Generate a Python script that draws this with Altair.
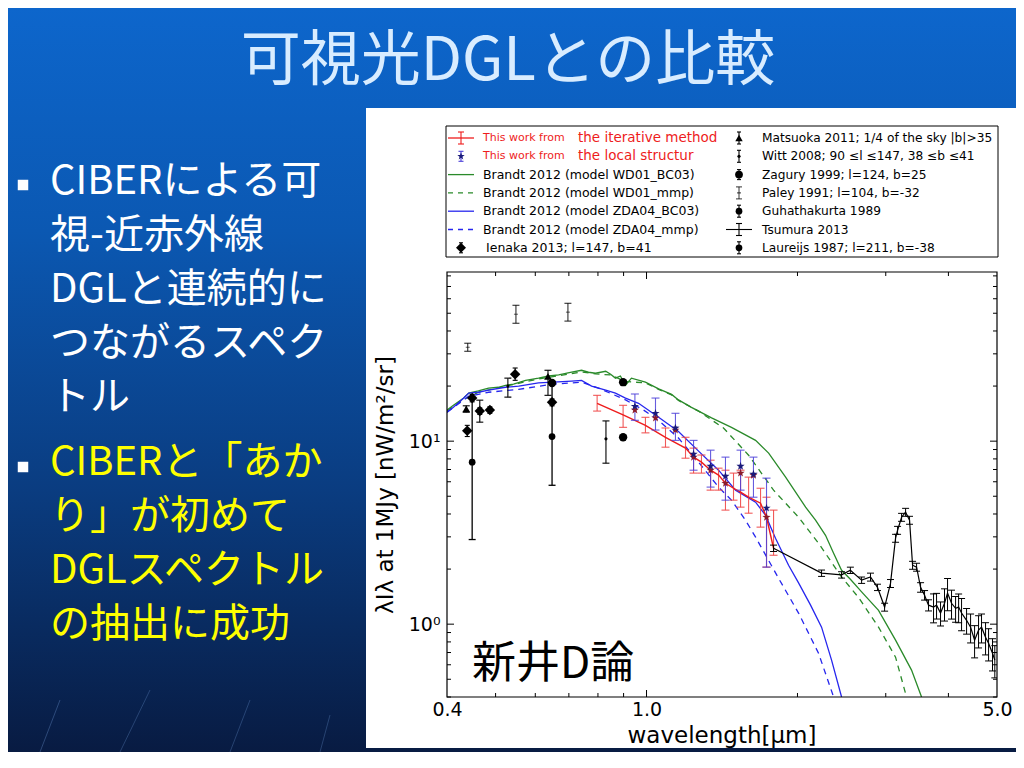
import altair as alt
import pandas as pd

# ---------------- slide text ----------------
TITLE = "可視光DGLとの比較"
BULLET1 = ["CIBERによる可", "視-近赤外線", "DGLと連続的に", "つながるスペク", "トル"]
BULLET2 = ["CIBERと「あか", "り」が初めて", "DGLスペクトル", "の抽出に成功"]
STAMP = "新井D論"
X_TITLE = "wavelength[μm]"
Y_TITLE = "λIλ at 1MJy [nW/m²/sr]"

# ---------------- axis ticks ----------------
X_LABEL_VALUES = [0.4, 1.0, 5.0]
Y_LABEL_VALUES = [1, 10]
X_MINOR = [0.5, 0.6, 0.7, 0.8, 0.9, 2, 3, 4]
X_MAJOR = [1.0]
Y_MINOR = [0.4, 0.5, 0.6, 0.7, 0.8, 0.9, 2, 3, 4, 5, 6, 7, 8, 9, 20, 30, 40, 50, 60, 70, 80]
Y_MAJOR = [1, 10]

# ---------------- legend text ----------------
LEG_RED_PREFIX = "This work from"
LEG_RED = ["the iterative method", "the local structur"]
LEG_LEFT = ["Brandt 2012 (model WD01_BC03)", "Brandt 2012 (model WD01_mmp)",
            "Brandt 2012 (model ZDA04_BC03)", "Brandt 2012 (model ZDA04_mmp)",
            "Ienaka 2013; l=147, b=41"]
LEG_RIGHT = ["Matsuoka 2011; 1/4 of the sky |b|>35", "Witt 2008; 90 ≤l ≤147, 38 ≤b ≤41",
             "Zagury 1999; l=124, b=25", "Paley 1991; l=104, b=-32", "Guhathakurta 1989",
             "Tsumura 2013", "Laureijs 1987; l=211, b=-38"]

# ---------------- model curves (Brandt 2012) ----------------
GREEN_X = [0.400, 0.412, 0.432, 0.442, 0.462, 0.484, 0.507, 0.523, 0.543, 0.574, 0.609, 0.638,
           0.668, 0.709, 0.742, 0.766, 0.791, 0.829, 0.848, 0.867, 0.887, 0.908, 0.933, 0.995,
           1.057, 1.122, 1.158, 1.229, 1.348, 1.477, 1.650, 1.752, 1.894, 2.076, 2.173, 2.275,
           2.361, 2.449, 2.55, 2.685, 2.902, 3.138, 3.377, 3.536]
GREEN_Y = [14.8, 15.7, 17.2, 18.3, 18.8, 19.5, 19.7, 20.2, 20.5, 21.5, 22.1, 22.7,
           23.0, 23.8, 24.4, 23.8, 23.5, 24.1, 23.2, 22.1, 22.7, 20.2, 22.1, 21.0,
           19.3, 18.0, 16.8, 15.3, 13.4, 11.9, 10.1, 8.6, 6.36, 4.36, 3.70, 3.06,
           2.44, 1.97, 1.76, 1.50, 1.19, 0.818, 0.561, 0.40]
GREEN_D_X = [0.400, 0.432, 0.462, 0.507, 0.543, 0.609, 0.668, 0.742, 0.791, 0.848, 0.908, 0.995,
             1.057, 1.122, 1.158, 1.270, 1.424, 1.598, 1.792, 2.010, 2.203, 2.449, 2.647, 2.902,
             3.138, 3.300]
GREEN_D_Y = [14.6, 16.9, 18.5, 19.6, 20.4, 21.9, 22.8, 23.9, 23.3, 23.0, 21.2, 20.8,
             19.2, 17.9, 16.7, 14.6, 11.8, 8.38, 5.40, 3.84, 2.77, 1.81, 1.40, 0.963,
             0.660, 0.40]
BLUE_X = [0.400, 0.412, 0.432, 0.442, 0.462, 0.484, 0.523, 0.556, 0.609, 0.652, 0.709, 0.742,
          0.777, 0.829, 0.867, 0.908, 0.964, 1.057, 1.158, 1.270, 1.392, 1.505, 1.650, 1.727,
          1.808, 1.920, 2.010, 2.124, 2.234, 2.339, 2.449]
BLUE_Y = [14.4, 15.3, 17.2, 18.3, 18.5, 19.0, 19.7, 20.0, 20.8, 21.0, 21.3, 21.5,
          20.0, 19.0, 18.3, 17.2, 16.1, 13.5, 11.3, 8.82, 6.94, 5.40, 4.64, 3.94,
          2.95, 2.10, 1.68, 1.27, 0.963, 0.636, 0.40]
BLUE_D_X = [0.400, 0.442, 0.484, 0.556, 0.652, 0.742, 0.802, 0.908, 0.986, 1.057, 1.158, 1.270,
            1.392, 1.477, 1.575, 1.650, 1.834, 2.010, 2.203, 2.361]
BLUE_D_Y = [14.4, 17.6, 18.5, 19.2, 20.5, 21.0, 19.5, 16.8, 14.8, 13.0, 10.4, 7.68,
            5.61, 4.76, 3.70, 2.99, 1.78, 1.15, 0.694, 0.40]

# ---------------- this work ----------------
RED_X = [0.797, 0.898, 0.995, 1.091, 1.196, 1.241, 1.287, 1.342, 1.392, 1.437, 1.491, 1.540,
         1.598, 1.688, 1.735, 1.792]
RED_Y = [16.1, 13.9, 12.2, 10.5, 9.16, 8.18, 7.68, 6.94, 6.52, 5.89, 5.53, 5.26,
         4.94, 4.58, 3.84, 2.60]
RED_LO = [14.6, 11.9, 11.1, 9.27, 8.07, 6.69, 6.69, 5.40, 5.40, 4.20, 4.76, 4.36,
          4.04, 3.39, 2.05, 2.38]
RED_HI = [17.8, 15.7, 13.5, 11.8, 10.5, 9.16, 8.40, 7.87, 7.12, 6.94, 6.69, 6.94,
          6.36, 5.53, 4.94, 4.20]
STAR_X = [0.948, 1.042, 1.142, 1.241, 1.342, 1.437, 1.540, 1.634, 1.735]
STAR_Y = [15.5, 14.2, 11.8, 8.49, 7.30, 6.44, 7.30, 6.60, 4.31]
STAR_LO = [13.0, 11.5, 10.1, 6.94, 5.61, 4.76, 5.40, 4.94, 2.05]
STAR_HI = [18.1, 17.2, 14.2, 10.1, 8.93, 8.18, 8.93, 8.18, 6.28]
STAR2_Y = [14.8, 13.4, 11.5, 8.18, 6.94, 5.89, 6.69, 6.52, 3.84]

# ---------------- literature ----------------
IENAKA_X = [0.439, 0.449, 0.465, 0.487, 0.547, 0.648]
IENAKA_Y = [11.4, 17.2, 14.6, 14.8, 23.2, 16.3]
IENAKA_LO = [10.6, 16.4, 14.0, 14.2, 21.5, 15.6]
IENAKA_HI = [12.2, 18.0, 15.2, 15.4, 25.1, 17.0]
MATSUOKA_X = [0.437, 0.636]
MATSUOKA_Y = [15.0, 22.6]
MATSUOKA_LO = [14.4, 17.8]
MATSUOKA_HI = [15.6, 24.4]
WITT_X = [0.465, 0.529, 0.830]
WITT_Y = [14.6, 20.0, 10.3]
WITT_LO = [12.7, 17.4, 7.58]
WITT_HI = [16.75, 22.1, 12.9]
ZAGURY_X = [0.898, 0.898, 0.648]
ZAGURY_Y = [21.0, 10.5, 20.8]
PALEY_X = [0.440, 0.549, 0.697]
PALEY_Y = [32.6, 49.4, 50.7]
PALEY_LO = [31.0, 44.1, 45.3]
PALEY_HI = [34.3, 55.3, 56.7]
GUHA_X = [0.449]
GUHA_Y = [7.68]
GUHA_LO = [2.9]
GUHA_HI = [17.2]
LAUREIJS_X = [0.648]
LAUREIJS_Y = [10.6]
LAUREIJS_LO = [5.74]
LAUREIJS_HI = [20.8]

TSUMURA_X = [1.792, 2.234, 2.449, 2.55, 2.685, 2.797, 2.888, 2.984, 3.066, 3.138, 3.167, 3.226,
             3.286, 3.346, 3.393, 3.456, 3.520, 3.585, 3.651, 3.736, 3.788, 3.858, 3.929, 3.984,
             4.058, 4.134, 4.192, 4.249, 4.348, 4.429, 4.511, 4.594, 4.657, 4.744, 4.810, 4.898,
             4.950]
TSUMURA_Y = [2.60, 1.90, 1.86, 1.97, 1.74, 1.81, 1.59, 1.24, 1.67, 2.95, 3.26, 3.84,
             4.09, 3.70, 2.10, 2.05, 1.59, 1.44, 1.27, 1.24, 1.27, 1.15, 1.30, 1.48,
             1.30, 1.22, 1.24, 1.15, 1.05, 0.963, 0.818, 0.927, 0.963, 0.849, 0.787, 0.694,
             0.636]
TSUMURA_ERR = [0.04, 0.04, 0.04, 0.04, 0.04, 0.05, 0.04, 0.05, 0.05, 0.05, 0.05, 0.05,
               0.05, 0.05, 0.05, 0.05, 0.06, 0.06, 0.07, 0.18, 0.16, 0.15, 0.20, 0.20,
               0.18, 0.16, 0.18, 0.20, 0.16, 0.18, 0.20, 0.20, 0.18, 0.20, 0.20, 0.20,
               0.20]

# ---------------- layout ----------------
W, H = 550, 425
OX, OY = 447, 272          # page position of the plot area
TOTAL_W, TOTAL_H = 1008, 744
PAD = {"left": OX - 8, "top": OY - 8, "right": TOTAL_W - (OX - 8) - W,
       "bottom": TOTAL_H - (OY - 8) - H}


def rx(px):
    return px - OX


def ry(py):
    return py - OY


XS = alt.Scale(type="log", domain=[0.4, 5.0])
YS = alt.Scale(type="log", domain=[0.4, 84])
AX_X = alt.Axis(values=X_LABEL_VALUES, labelExpr="format(datum.value, '.1f')", ticks=False,
                domain=False, grid=False, title=None, labelFont="DejaVu Sans", labelFontSize=19,
                labelColor="black", labelPadding=3, labelFlush=False, labelOverlap=False, zindex=2)
AX_Y = alt.Axis(values=Y_LABEL_VALUES, labelExpr="datum.value == 10 ? '10¹' : '10⁰'", ticks=False,
                domain=False, grid=False, title=None, labelFont="DejaVu Sans", labelFontSize=19,
                labelColor="black", labelPadding=7, labelFlush=False, labelOverlap=False, zindex=2)


def X(f="x"):
    return alt.X(f"{f}:Q", scale=XS, axis=AX_X)


def Y(f="y"):
    return alt.Y(f"{f}:Q", scale=YS, axis=AX_Y)


ONE = pd.DataFrame({"k": [0]})
STAR = ("M0,-1L0.235,-0.324L0.951,-0.309L0.38,0.124L0.588,0.809L0,0.4L-0.588,0.809"
        "L-0.38,0.124L-0.951,-0.309L-0.235,-0.324Z")

L = []


def text(px, py, s, size, color="black", font="DejaVu Sans", align="left", baseline="middle",
         angle=None, weight="normal"):
    kw = dict(fontSize=size, color=color, font=font, align=align, baseline=baseline,
              fontWeight=weight)
    if angle is not None:
        kw["angle"] = angle
    L.append(alt.Chart(ONE).mark_text(**kw).encode(
        x=alt.value(rx(px)), y=alt.value(ry(py)), text=alt.value(s)))


def rect(x1, y1, x2, y2, **kw):
    L.append(alt.Chart(ONE).mark_rect(**kw).encode(
        x=alt.value(rx(x1)), x2=alt.value(rx(x2)), y=alt.value(ry(y1)), y2=alt.value(ry(y2))))


def hline(x1, x2, y, color, width=1.3, dash=None, opacity=1.0):
    kw = dict(color=color, strokeWidth=width, opacity=opacity)
    if dash:
        kw["strokeDash"] = dash
    L.append(alt.Chart(ONE).mark_rule(**kw).encode(
        x=alt.value(rx(x1)), x2=alt.value(rx(x2)), y=alt.value(ry(y))))


def seg(x1, y1, x2, y2, color, width=1.0, opacity=1.0):
    L.append(alt.Chart(ONE).mark_rule(color=color, strokeWidth=width, opacity=opacity).encode(
        x=alt.value(rx(x1)), x2=alt.value(rx(x2)), y=alt.value(ry(y1)), y2=alt.value(ry(y2))))


def vbar(x, y1, y2, color, cap=6, width=1.1):
    L.append(alt.Chart(ONE).mark_rule(color=color, strokeWidth=width).encode(
        x=alt.value(rx(x)), y=alt.value(ry(y1)), y2=alt.value(ry(y2))))
    for yy in (y1, y2):
        hline(x - cap / 2, x + cap / 2, yy, color, width)


def sym(x, y, shape, size, color="black"):
    L.append(alt.Chart(ONE).mark_point(shape=shape, size=size, filled=True, color=color,
                                       opacity=1).encode(x=alt.value(rx(x)), y=alt.value(ry(y))))


# ---- data-layer helpers ----
def line(xv, yv, color, dash=None, width=1.3):
    kw = dict(color=color, strokeWidth=width, clip=True)
    if dash:
        kw["strokeDash"] = dash
    L.append(alt.Chart(pd.DataFrame({"x": xv, "y": yv})).mark_line(**kw).encode(x=X(), y=Y()))


def errbars(xv, lo, hi, color, cap=8, width=1.1, opacity=1.0):
    base = alt.Chart(pd.DataFrame({"x": xv, "lo": lo, "hi": hi}))
    L.append(base.mark_rule(color=color, strokeWidth=width, clip=True, opacity=opacity).encode(
        x=X(), y=Y("lo"), y2="hi:Q"))
    for f in ("lo", "hi"):
        L.append(base.mark_tick(orient="horizontal", color=color, size=cap, thickness=width,
                                clip=True, opacity=opacity).encode(x=X(), y=Y(f)))


def points(xv, yv, shape, size, color="black"):
    L.append(alt.Chart(pd.DataFrame({"x": xv, "y": yv})).mark_point(
        shape=shape, size=size, filled=True, color=color, opacity=1, clip=True).encode(x=X(), y=Y()))


# ---------------- slide background ----------------
grad = alt.LinearGradient(gradient="linear", x1=0, x2=0, y1=0, y2=1, stops=[
    alt.GradientStop(color="#0d66cc", offset=0.0),
    alt.GradientStop(color="#0b58b2", offset=0.3),
    alt.GradientStop(color="#0a3c80", offset=0.65),
    alt.GradientStop(color="#081b42", offset=1.0)])
rect(8, 8, 1016, 752, fill=grad)
# faint template strokes near the bottom of the slide
seg(60, 700, 40, 752, "#6f9ad8", 1.0, 0.35)
seg(150, 690, 120, 752, "#6f9ad8", 1.0, 0.3)
seg(250, 700, 230, 752, "#6f9ad8", 1.0, 0.3)
seg(330, 715, 320, 752, "#6f9ad8", 1.0, 0.3)
rect(366, 108, 1016, 748, fill="white")

# title
text(508, 62, TITLE, 60, color="#d8ecff", font="Noto Sans CJK JP", align="center")

# bullets
sym(23, 185, "square", 110, color="white")
for i, s in enumerate(BULLET1):
    text(50, 182 + i * 54, s, 40, color="white", font="Noto Sans CJK JP")
sym(23, 467, "square", 110, color="white")
for i, s in enumerate(BULLET2):
    text(50, 463 + i * 54, s, 40, color="#ffff00", font="Noto Sans CJK JP")

# ---------------- legend ----------------
rect(446, 126, 998, 257, fill="white", stroke="black", strokeWidth=1)
ROW = [138 + i * 18.3 for i in range(7)]
LX, LT, RX_, RT = 461, 483, 739, 762
# left column handles
hline(448, 474, ROW[0], "#ee1c1c")
vbar(LX, ROW[0] - 6, ROW[0] + 6, "#ee1c1c")
vbar(LX, ROW[1] - 5, ROW[1] + 5, "#4b3fd8", cap=5)
sym(LX, ROW[1], STAR, 60, color="#1a1a7a")
hline(448, 474, ROW[2], "#2a8a2a")
hline(448, 474, ROW[3], "#2a8a2a", dash=[5, 5])
hline(448, 474, ROW[4], "#2626ee")
hline(448, 474, ROW[5], "#2626ee", dash=[5, 5])
vbar(LX, ROW[6] - 5, ROW[6] + 5, "black", cap=4)
sym(LX, ROW[6], "diamond", 100)
for i in range(2):
    text(LT, ROW[i], LEG_RED_PREFIX, 11, color="#ee1c1c")
    text(578, ROW[i], LEG_RED[i], 13.5, color="#ee1c1c")
for i, s in enumerate(LEG_LEFT):
    text(LT + (3 if i == 4 else 0), ROW[i + 2], s, 12.5)
# right column handles
vbar(RX_, ROW[0] - 6, ROW[0] + 6, "black", cap=4)
sym(RX_, ROW[0], "triangle-up", 55)
vbar(RX_, ROW[1] - 6, ROW[1] + 6, "black", cap=4)
sym(RX_, ROW[1], "circle", 10)
vbar(RX_, ROW[2] - 5, ROW[2] + 5, "black", cap=4)
sym(RX_, ROW[2], "circle", 60)
vbar(RX_, ROW[3] - 6, ROW[3] + 6, "black", cap=6, width=0.8)
hline(RX_ - 2, RX_ + 2, ROW[3], "black", 0.8)
vbar(RX_, ROW[4] - 6, ROW[4] + 6, "black", cap=4)
sym(RX_, ROW[4], "circle", 45)
hline(726, 752, ROW[5], "black", 1.1)
vbar(RX_, ROW[5] - 6, ROW[5] + 6, "black", cap=6)
vbar(RX_, ROW[6] - 6, ROW[6] + 6, "black", cap=4)
sym(RX_, ROW[6], "circle", 45)
for i, s in enumerate(LEG_RIGHT):
    text(RT, ROW[i], s, 12.2)

# ---------------- data ----------------
line(GREEN_X, GREEN_Y, "#2a8a2a")
line(GREEN_D_X, GREEN_D_Y, "#2a8a2a", dash=[6, 5])
line(BLUE_X, BLUE_Y, "#2626ee")
line(BLUE_D_X, BLUE_D_Y, "#2626ee", dash=[6, 5])

errbars(RED_X, RED_LO, RED_HI, "#f04848", cap=8, opacity=0.9)
line(RED_X, RED_Y, "#ee1c1c", width=1.4)
errbars(STAR_X, STAR_LO, STAR_HI, "#4b3fd8", cap=8, opacity=0.85)
points(STAR_X, STAR2_Y, STAR, 75, color="#8b1a2a")
points(STAR_X, STAR_Y, STAR, 75, color="#1a1a7a")

errbars(IENAKA_X, IENAKA_LO, IENAKA_HI, "black", cap=5)
points(IENAKA_X, IENAKA_Y, "diamond", 110)
errbars(MATSUOKA_X, MATSUOKA_LO, MATSUOKA_HI, "black", cap=7)
points(MATSUOKA_X, MATSUOKA_Y, "triangle-up", 60)
errbars(WITT_X, WITT_LO, WITT_HI, "black", cap=7)
points(WITT_X, WITT_Y, "circle", 10)
points(ZAGURY_X, ZAGURY_Y, "circle", 70)
errbars(PALEY_X, PALEY_LO, PALEY_HI, "black", cap=7, width=0.9)
L.append(alt.Chart(pd.DataFrame({"x": PALEY_X, "y": PALEY_Y})).mark_tick(
    orient="horizontal", color="black", size=4, thickness=0.9, clip=True).encode(x=X(), y=Y()))
errbars(GUHA_X, GUHA_LO, GUHA_HI, "black", cap=7, width=1.3)
points(GUHA_X, GUHA_Y, "circle", 45)
errbars(LAUREIJS_X, LAUREIJS_LO, LAUREIJS_HI, "black", cap=7, width=1.3)
points(LAUREIJS_X, LAUREIJS_Y, "circle", 45)

ts_lo = [y * (1 - e) for y, e in zip(TSUMURA_Y, TSUMURA_ERR)]
ts_hi = [y * (1 + e) for y, e in zip(TSUMURA_Y, TSUMURA_ERR)]
errbars(TSUMURA_X, ts_lo, ts_hi, "black", cap=7, width=1.0)
line(TSUMURA_X, TSUMURA_Y, "black", width=1.2)

# ---------------- inward ticks & frame ----------------
for vals, ln in ((X_MINOR, 4), (X_MAJOR, 7)):
    d = alt.Chart(pd.DataFrame({"x": vals}))
    L.append(d.mark_rule(color="black", strokeWidth=1).encode(
        x=X(), y=alt.value(H), y2=alt.value(H - ln)))
    L.append(d.mark_rule(color="black", strokeWidth=1).encode(
        x=X(), y=alt.value(0), y2=alt.value(ln)))
for vals, ln in ((Y_MINOR, 4), (Y_MAJOR, 7)):
    d = alt.Chart(pd.DataFrame({"y": vals}))
    L.append(d.mark_rule(color="black", strokeWidth=1).encode(
        y=Y(), x=alt.value(0), x2=alt.value(ln)))
    L.append(d.mark_rule(color="black", strokeWidth=1).encode(
        y=Y(), x=alt.value(W), x2=alt.value(W - ln)))
rect(OX, OY, OX + W, OY + H, filled=False, stroke="black", strokeWidth=1.2)

# axis titles and stamp
text(OX + W / 2, 736, X_TITLE, 23, align="center")
text(386, 485, Y_TITLE, 23, align="center", angle=270)
text(472, 665, STAMP, 44, color="black", font="Noto Sans CJK JP")

chart = alt.layer(*L).properties(
    width=W, height=H, padding=PAD, autosize=alt.AutoSizeParams(type="none"),
    background="white"
).configure_view(stroke=None)

chart.save("out.html", embed_options={"renderer": "svg", "actions": False})
